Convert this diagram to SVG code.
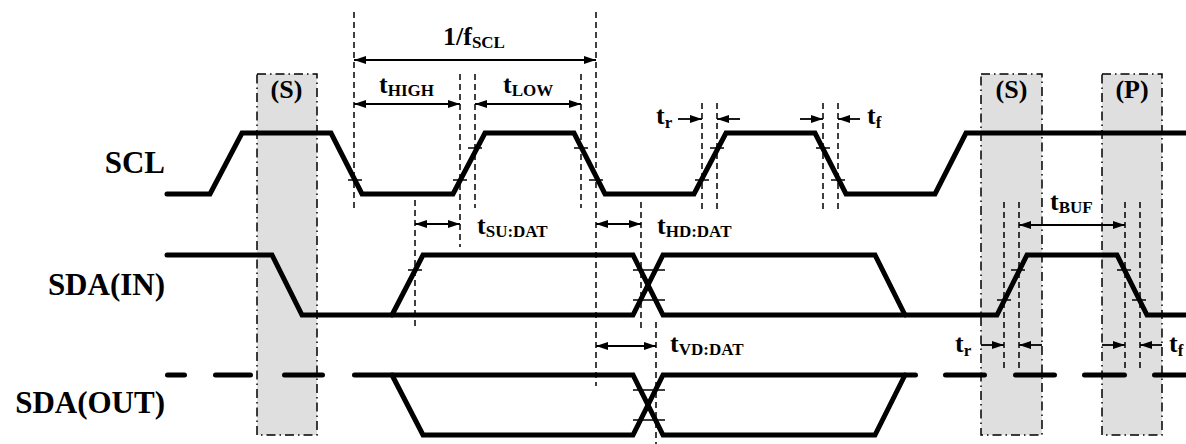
<svg xmlns="http://www.w3.org/2000/svg" width="1186" height="444" viewBox="0 0 1186 444">
<style>
.box{fill:#dfdfdf;stroke:#000;stroke-width:1.5;stroke-dasharray:9 4 1.5 4}
.wave{fill:none;stroke:#000;stroke-width:5;stroke-linejoin:miter;stroke-linecap:round}
.dash{fill:none;stroke:#000;stroke-width:1.5;stroke-dasharray:6 4}
.tick{fill:none;stroke:#000;stroke-width:1.5}
.arr{fill:none;stroke:#000;stroke-width:1.8;marker-end:url(#ah)}
.arr2{fill:none;stroke:#000;stroke-width:1.8;marker-end:url(#ah);marker-start:url(#ah)}
.txt{font-family:'Liberation Serif','DejaVu Serif','Times New Roman',serif;font-weight:700;fill:#000}
.lbl{font-size:31px}
.t{font-size:26px}
.s{font-size:17px}
</style>
<defs>
<marker id="ah" viewBox="0 0 12 8" refX="12" refY="4" markerWidth="12" markerHeight="8" markerUnits="userSpaceOnUse" orient="auto-start-reverse">
<path d="M0,0 L12,4 L0,8 z" fill="#000"/>
</marker>
</defs>

<g id="boxes">
<rect id="box-s1" class="box" x="257" y="74" width="60" height="361"/>
<rect id="box-s2" class="box" x="981" y="74" width="61" height="361"/>
<rect id="box-p" class="box" x="1102" y="74" width="60" height="361"/>
</g>

<g id="box-labels" class="txt">
<text class="t" x="286.5" y="98" text-anchor="middle">(S)</text>
<text class="t" x="1011.5" y="98" text-anchor="middle">(S)</text>
<text class="t" x="1132" y="98" text-anchor="middle">(P)</text>
</g>

<g id="labels" class="txt">
<text class="lbl" x="165" y="173" text-anchor="end">SCL</text>
<text class="lbl" x="165" y="295" text-anchor="end">SDA(IN)</text>
<text class="lbl" x="165" y="413" text-anchor="end">SDA(OUT)</text>
</g>

<g id="scl">
<path class="wave" d="M167,194 H210 L242,133 H331 L362,194 H453 L485,133 H574 L605,194 H694 L726,133 H815 L846,194 H935 L966,133 H1190"/>
</g>

<g id="sda-in">
<path class="wave" d="M167,255 H272 L302,315 H633 L663,255 H875 L905,315"/>
<path class="wave" d="M392,315 L423,255 H633 L663,315 H997 L1027,255 H1117 L1147,315 H1190"/>
</g>

<g id="sda-out">
<path class="wave" d="M167.5,375 H184.5 M215.5,375 H250.5 M284.5,375 H322.5 M945.5,375 H984.5 M1015.5,375 H1054.5 M1084.5,375 H1124.5 M1154.5,375 H1190"/>
<path class="wave" d="M354.5,375 H633 L663,435 H875 L905,375"/>
<path class="wave" d="M392,375 L423,435 H633 L663,375 H915.5"/>
</g>

<g id="ticks">
<path class="tick" d="M348,180 H362 M453,180 H467 M468,148 H482 M574,148 H588 M589,180 H603 M695,180 H709 M710,148 H724 M816,148 H830 M831,180 H845"/>
<path class="tick" d="M408,270 H422 M633,270 H665 M633,300 H665 M633,390 H665 M633,420 H665 M1011,270 H1025 M997,300 H1011 M1117,270 H1131 M1132,300 H1146"/>
</g>

<g id="connectors">
<path class="dash" d="M354,12 V210 M460,74 V247 M475,74 V208 M581,74 V208 M596,12 V386 M415,200 V330 M641,202 V330 M656,322 V444 M702,103 V210 M717,103 V210 M823,103 V210 M838,103 V210 M1004,202 V368 M1019,202 V368 M1125,202 V368 M1140,202 V368"/>
<path class="arr2" d="M354,60 H596"/>
<path class="arr2" d="M354,104 H460"/>
<path class="arr2" d="M475,104 H581"/>
<path class="arr2" d="M415,224 H460"/>
<path class="arr2" d="M596,224 H641"/>
<path class="arr2" d="M596,346 H656"/>
<path class="arr2" d="M1019,225 H1125"/>
<path class="arr" d="M678,119 H702"/>
<path class="arr" d="M740,119 H717"/>
<path class="arr" d="M800,119 H823"/>
<path class="arr" d="M860,119 H838"/>
<path class="arr" d="M981,345 H1004"/>
<path class="arr" d="M1042,345 H1019"/>
<path class="arr" d="M1102,345 H1125"/>
<path class="arr" d="M1162,345 H1140"/>
</g>

<g id="timing-labels" class="txt">
<text class="t" x="443" y="45">1/f<tspan class="s" dy="3">SCL</tspan></text>
<text class="t" x="379" y="93">t<tspan class="s" dy="3">HIGH</tspan></text>
<text class="t" x="503" y="93">t<tspan class="s" dy="3">LOW</tspan></text>
<text class="t" x="656" y="124">t<tspan class="s" dy="4">r</tspan></text>
<text class="t" x="867" y="124">t<tspan class="s" dy="4">f</tspan></text>
<text class="t" x="477" y="234">t<tspan class="s" dy="3">SU:DAT</tspan></text>
<text class="t" x="657" y="234">t<tspan class="s" dy="3">HD:DAT</tspan></text>
<text class="t" x="670" y="352">t<tspan class="s" dy="3">VD:DAT</tspan></text>
<text class="t" x="1050" y="210">t<tspan class="s" dy="3">BUF</tspan></text>
<text class="t" x="955" y="352">t<tspan class="s" dy="4">r</tspan></text>
<text class="t" x="1169" y="352">t<tspan class="s" dy="4">f</tspan></text>
</g>
</svg>
